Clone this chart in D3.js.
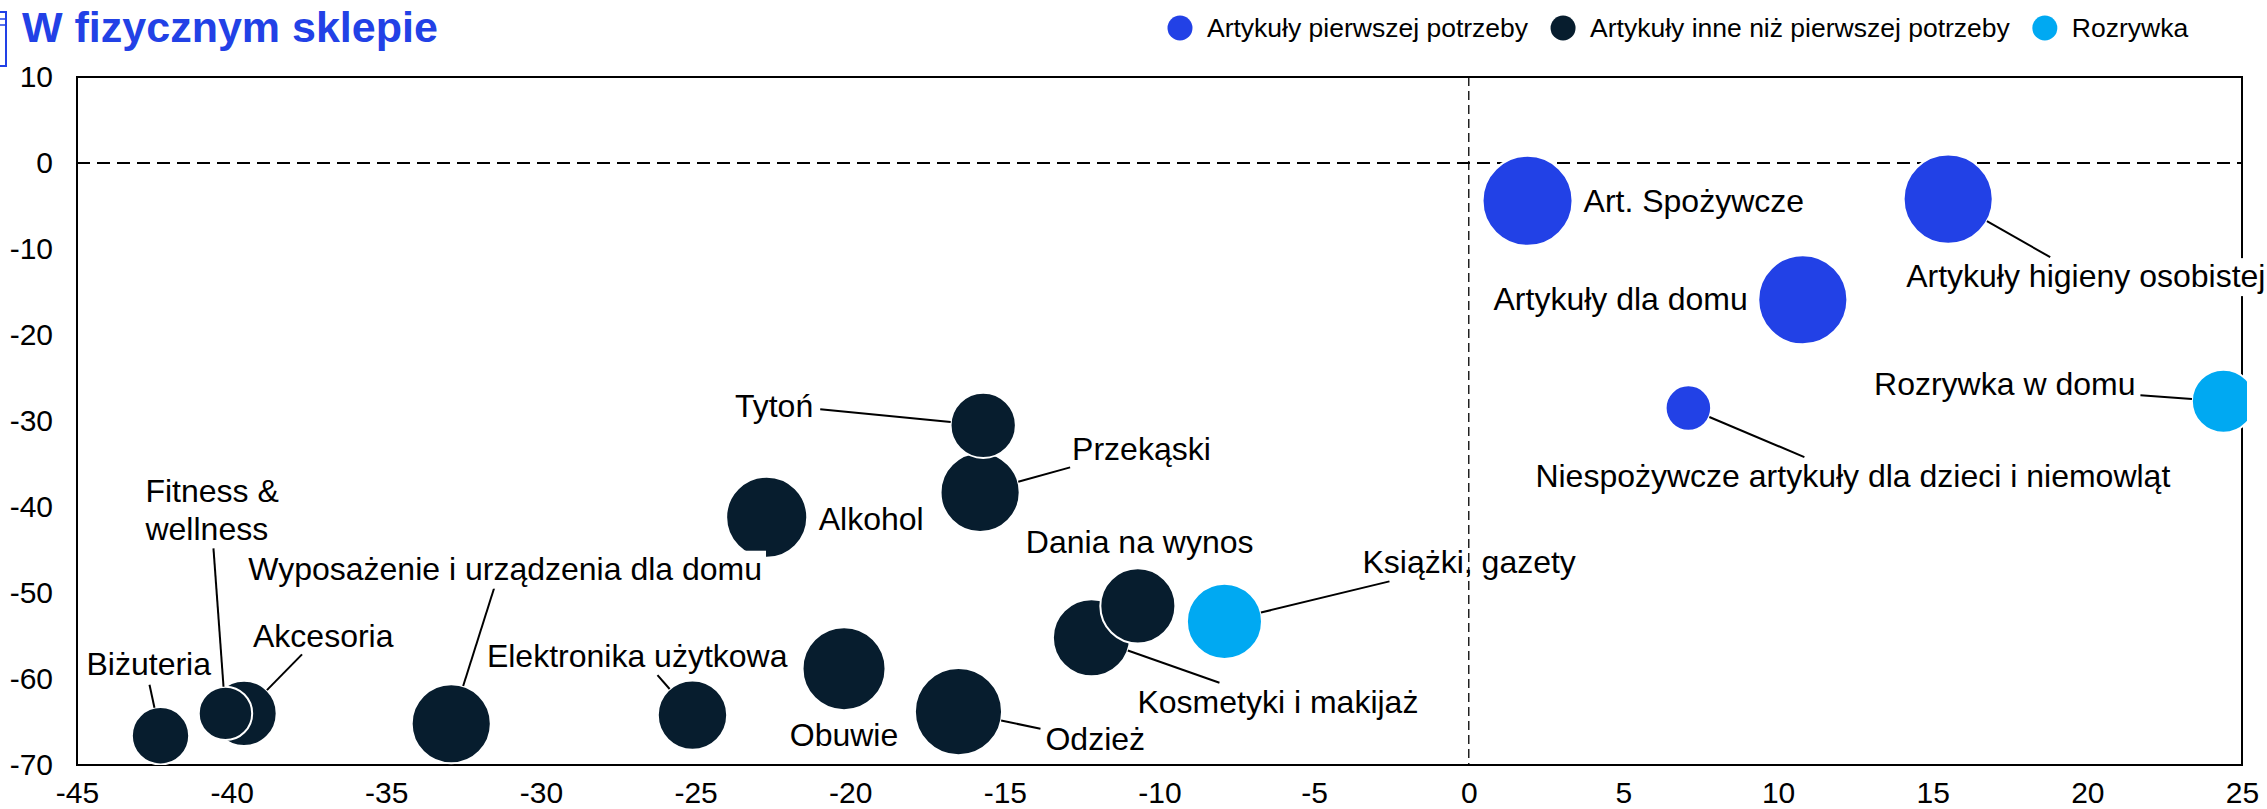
<!DOCTYPE html>
<html>
<head>
<meta charset="utf-8">
<script src="https://cdn.jsdelivr.net/npm/d3@7"></script>
<style>
  body { margin: 0; background: #fff; }
  text { font-family: Arial, "Liberation Sans", sans-serif; }
</style>
</head>
<body>
<div id="bubbleDiv"></div>
<script>

// data
var categories = ["Art. Spożywcze", "Artykuły higieny osobistej", "Artykuły dla domu",
  "Niespożywcze artykuły dla dzieci i niemowląt", "Rozrywka w domu", "Tytoń", "Przekąski",
  "Alkohol", "Dania na wynos", "Kosmetyki i makijaż", "Książki, gazety", "Obuwie", "Odzież",
  "Elektronika użytkowa", "Wyposażenie i urządzenia dla domu", "Fitness & wellness",
  "Akcesoria", "Biżuteria"];
var xValues = [1.9, 15.5, 10.8, 7.1, 24.4, -15.7, -15.8, -22.7, -10.7, -12.2, -7.9, -20.2, -16.5, -25.1, -32.9, -40.2, -39.6, -42.3];
var yValues = [-4.4, -4.2, -15.9, -28.5, -27.7, -30.5, -38.3, -41.2, -51.5, -55.2, -53.3, -58.8, -63.8, -64.2, -65.2, -64.0, -64.0, -66.6];
var sizes = [20.7, 20.3, 20.3, 5.3, 10.2, 10.9, 16, 16.8, 14.4, 15.2, 14.4, 17.6, 19.4, 12.3, 16, 7.3, 10.9, 8.4];
var groups = [0, 0, 0, 0, 2, 1, 1, 1, 1, 1, 2, 1, 1, 1, 1, 1, 1, 1];
var seriesNames = ["Artykuły pierwszej potrzeby", "Artykuły inne niż pierwszej potrzeby", "Rozrywka"];
var xTicks = [-45, -40, -35, -30, -25, -20, -15, -10, -5, 0, 5, 10, 15, 20, 25];
var yTicks = [10, 0, -10, -20, -30, -40, -50, -60, -70];

// label placement (pixels, relative to bubble centre)
var labelLayout = {
  "Art. Spożywcze": {dx: 56, dy: 11, anchor: "start"},
  "Artykuły higieny osobistej": {dx: -42, dy: 88, anchor: "start", lead: [102, 58], bg: true},
  "Artykuły dla domu": {dx: -55, dy: 10, anchor: "end"},
  "Niespożywcze artykuły dla dzieci i niemowląt": {dx: -153, dy: 79, anchor: "start", lead: [116, 49]},
  "Rozrywka w domu": {dx: -88, dy: -6, anchor: "end", lead: [-83, -6]},
  "Tytoń": {dx: -170, dy: -8, anchor: "end", lead: [-163, -16]},
  "Przekąski": {dx: 92, dy: -32, anchor: "start", lead: [90, -25]},
  "Alkohol": {dx: 52, dy: 13, anchor: "start"},
  "Dania na wynos": {dx: -112, dy: -53, anchor: "start"},
  "Kosmetyki i makijaż": {dx: 46, dy: 75, anchor: "start", lead: [128, 45]},
  "Książki, gazety": {dx: 138, dy: -48, anchor: "start", lead: [165, -40]},
  "Obuwie": {dx: 0, dy: 77, anchor: "middle"},
  "Odzież": {dx: 87, dy: 38, anchor: "start", lead: [82, 17]},
  "Elektronika użytkowa": {dx: 95, dy: -48, anchor: "end", lead: [-35, -40]},
  "Wyposażenie i urządzenia dla domu": {dx: -203, dy: -144, anchor: "start", lead: [43, -136], bg: true},
  "Fitness & wellness": {dx: -80, dy: -211, anchor: "start", lead: [-12, -165], lines: ["Fitness &", "wellness"]},
  "Akcesoria": {dx: 9, dy: -66, anchor: "start", lead: [58, -59]},
  "Biżuteria": {dx: -74, dy: -61, anchor: "start", lead: [-11, -51]}
};

var colors = ["#2241e6", "#071d2e", "#00a9f2"];

var width = 2267, height = 809;
var plot = {left: 77, right: 2242, top: 77, bottom: 765};

var svg = d3.select("#bubbleDiv").append("svg")
    .attr("width", width)
    .attr("height", height);

// Set the ranges
var x = d3.scaleLinear().domain([-45, 25]).range([plot.left, plot.right]);
var y = d3.scaleLinear().domain([-70, 10]).range([plot.bottom, plot.top]);
var r = d3.scaleSqrt().domain([0, 20.7]).range([0, 45]);

var data = categories.map(function(c, i) {
  return {name: c, x: xValues[i], y: yValues[i], size: sizes[i], group: groups[i]};
});

// title with the little icon
svg.append("rect")
    .attr("x", -12).attr("y", 12)
    .attr("width", 18).attr("height", 54)
    .attr("fill", "none").attr("stroke", colors[0]).attr("stroke-width", 2);
[19, 25].forEach(function(yy) {
  svg.append("line").attr("x1", 0).attr("x2", 6).attr("y1", yy).attr("y2", yy)
      .attr("stroke", colors[0]).attr("stroke-width", 1.5);
});
svg.append("text")
    .attr("x", 22).attr("y", 42)
    .style("font-size", "43px").style("font-weight", "bold")
    .attr("fill", colors[0])
    .text("W fizycznym sklepie");

// Legend
var lx = 1180;
seriesNames.forEach(function(s, i) {
  svg.append("circle").attr("cx", lx).attr("cy", 28).attr("r", 12.5).attr("fill", colors[i]);
  var t = svg.append("text")
      .attr("x", lx + 27).attr("y", 37)
      .style("font-size", "26.5px")
      .attr("fill", "#000")
      .text(s);
  lx += 27 + t.node().getComputedTextLength() + 35;
});

// Add the axes (labels only, no tick marks, plain hyphen for minus)
var fmt = function(d) { return String(d); };
var xa = svg.append("g")
    .attr("transform", "translate(0," + plot.bottom + ")")
    .call(d3.axisBottom(x).tickValues(xTicks).tickFormat(fmt).tickSize(0).tickPadding(17));
xa.select(".domain").remove();
xa.selectAll("text").style("font-size", "30px").attr("fill", "#000")
    .style("font-family", "Arial, 'Liberation Sans', sans-serif");

var ya = svg.append("g")
    .attr("transform", "translate(" + plot.left + ",0)")
    .call(d3.axisLeft(y).tickValues(yTicks).tickFormat(fmt).tickSize(0).tickPadding(24));
ya.select(".domain").remove();
ya.selectAll("text").style("font-size", "30px").attr("fill", "#000")
    .style("font-family", "Arial, 'Liberation Sans', sans-serif");

// dashed zero lines
svg.append("line")
    .attr("x1", plot.left).attr("x2", plot.right)
    .attr("y1", y(0)).attr("y2", y(0))
    .attr("stroke", "#000").attr("stroke-width", 2).attr("stroke-dasharray", "13,7");
svg.append("line")
    .attr("x1", x(0)).attr("x2", x(0))
    .attr("y1", plot.top).attr("y2", plot.bottom)
    .attr("stroke", "#000").attr("stroke-width", 1.3).attr("stroke-dasharray", "9,5");

// plot frame
svg.append("rect")
    .attr("x", plot.left).attr("y", plot.top)
    .attr("width", plot.right - plot.left).attr("height", plot.bottom - plot.top)
    .attr("fill", "none").attr("stroke", "#000").attr("stroke-width", 2);

svg.append("clipPath").attr("id", "clip")
  .append("rect")
    .attr("x", plot.left).attr("y", plot.top - 60)
    .attr("width", plot.right - plot.left + 5).attr("height", plot.bottom - plot.top + 60);

// Add the bubbles, biggest first so small ones sit on top
var sorted = data.slice().sort(function(a, b) { return b.size - a.size; });
svg.append("g").attr("clip-path", "url(#clip)")
  .selectAll(".dot")
    .data(sorted)
  .enter().append("circle")
    .attr("class", "dot")
    .attr("cx", function(d) { return x(d.x); })
    .attr("cy", function(d) { return y(d.y); })
    .attr("r", function(d) { return r(d.size); })
    .attr("fill", function(d) { return colors[d.group]; })
    .attr("stroke", "#fff")
    .attr("stroke-width", 2);

// data labels and leader lines
var lab = svg.append("g");
data.forEach(function(d) {
  var L = labelLayout[d.name];
  var cx = x(d.x), cy = y(d.y), rad = r(d.size);
  if (L.lead) {
    var len = Math.sqrt(L.lead[0] * L.lead[0] + L.lead[1] * L.lead[1]);
    lab.append("line")
        .attr("x1", cx + L.lead[0]).attr("y1", cy + L.lead[1])
        .attr("x2", cx + L.lead[0] * rad / len).attr("y2", cy + L.lead[1] * rad / len)
        .attr("stroke", "#000").attr("stroke-width", 2);
  }
  var g = lab.append("g");
  var t = g.append("text")
      .attr("x", cx + L.dx).attr("y", cy + L.dy)
      .attr("text-anchor", L.anchor)
      .style("font-size", "32px")
      .attr("fill", "#000");
  if (L.lines) {
    L.lines.forEach(function(s, k) {
      t.append("tspan").attr("x", cx + L.dx).attr("dy", k ? 38 : 0).text(s);
    });
  } else {
    t.text(d.name);
  }
  if (L.bg) {
    var bb = t.node().getBBox();
    g.insert("rect", "text")
        .attr("x", bb.x - 4).attr("y", bb.y)
        .attr("width", bb.width + 8).attr("height", bb.height + 2)
        .attr("fill", "#fff");
  }
});

</script>
</body>
</html>
